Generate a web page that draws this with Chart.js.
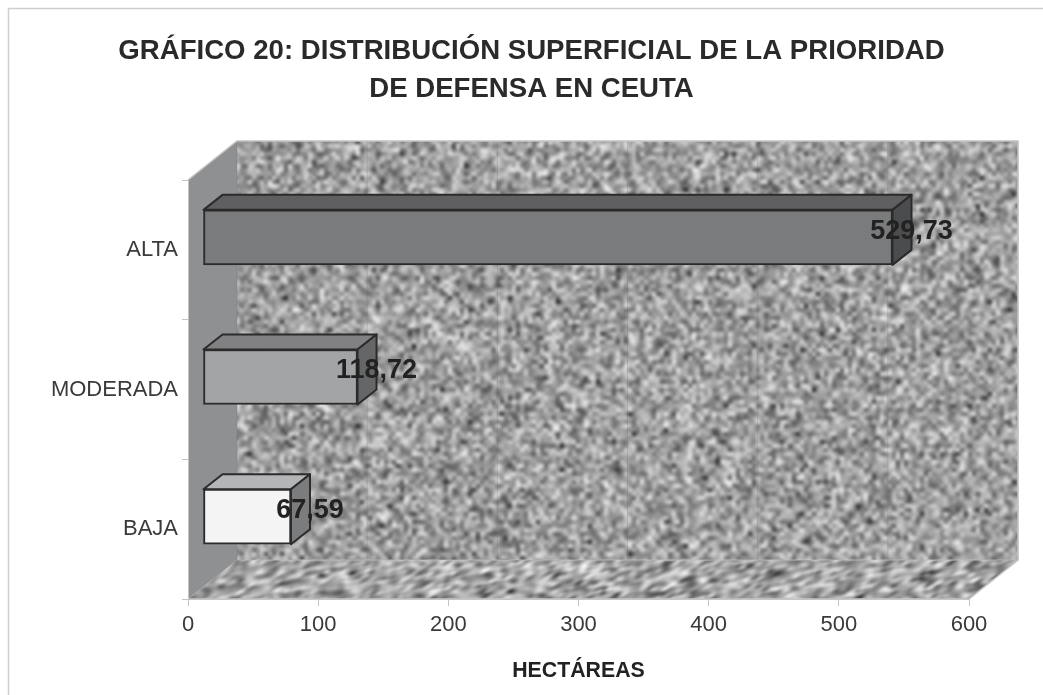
<!DOCTYPE html>
<html>
<head>
<meta charset="utf-8">
<script src="https://cdn.jsdelivr.net/npm/chart.js@4"></script>
<style>
    html, body { margin: 0; padding: 0; background: #fff; }
    #wrap { width: 1043px; height: 695px; }
</style>
</head>
<body>
<div id="wrap"><canvas id="grafico" width="1043" height="695"></canvas></div>
<script>
const categorias = ['ALTA', 'MODERADA', 'BAJA'];
const hectareas = [529.73, 118.72, 67.59];
const etiquetas = ['529,73', '118,72', '67,59'];
const colorFrente = ['#7a7b7d', '#a3a4a6', '#f4f4f4'];
const colorArriba = ['#5f5f61', '#818183', '#b4b5b7'];
const colorLado = ['#4b4c4e', '#656668', '#7b7c7e'];
const tituloLineas = ['GRÁFICO 20: DISTRIBUCIÓN SUPERFICIAL DE LA PRIORIDAD', 'DE DEFENSA EN CEUTA'];

const fuente = 'Liberation Sans, Arial, sans-serif';

// profundidad del fondo y de las barras (falso 3D)
const fondoDx = 49, fondoDy = 39;
const barraDx = 19, barraDy = 15;
const barraOffX = 15, barraOffY = -12.5;

// textura de grano con semilla fija, no lleva datos
const crearGrano = (w, h, celda, semilla, contraste, medio) => {
    let s = semilla;
    const azar = () => {
        s = (s * 1664525 + 1013904223) % 4294967296;
        return s / 4294967296;
    };
    const chico = document.createElement('canvas');
    chico.width = Math.ceil(w / celda);
    chico.height = Math.ceil(h / celda);
    const cc = chico.getContext('2d');
    const img = cc.createImageData(chico.width, chico.height);
    for (let i = 0; i < img.data.length; i += 4) {
        const r = (azar() + azar()) / 2;
        // curva para que haya pocas manchas oscuras sobre un fondo claro
        const v = medio + (r - 0.5) * contraste - (azar() < 0.07 ? 70 : 0);
        img.data[i] = img.data[i + 1] = img.data[i + 2] = v;
        img.data[i + 3] = 255;
    }
    cc.putImageData(img, 0, 0);
    const grande = document.createElement('canvas');
    grande.width = w;
    grande.height = h;
    const gc = grande.getContext('2d');
    gc.imageSmoothingEnabled = true;
    gc.imageSmoothingQuality = 'high';
    gc.filter = 'blur(0.8px)';
    gc.drawImage(chico, 0, 0, w, h);
    return grande;
};

const granoFino = crearGrano(1100, 700, 4, 12345, 205, 166);
const granoGrueso = crearGrano(1100, 700, 14, 98765, 170, 145);

const poligono = (ctx, puntos, relleno, borde, ancho) => {
    ctx.beginPath();
    puntos.forEach((p, i) => (i ? ctx.lineTo(p[0], p[1]) : ctx.moveTo(p[0], p[1])));
    ctx.closePath();
    if (relleno) {
        ctx.fillStyle = relleno;
        ctx.fill();
    }
    if (borde) {
        ctx.strokeStyle = borde;
        ctx.lineWidth = ancho;
        ctx.lineJoin = 'round';
        ctx.stroke();
    }
};

const fondo3d = {
    id: 'fondo3d',
    beforeDraw(chart) {
        const { ctx, chartArea: a, scales } = chart;
        ctx.save();

        // marco de la figura
        ctx.fillStyle = '#fff';
        ctx.fillRect(0, 0, 1043, 695);
        ctx.strokeStyle = '#cfcfcf';
        ctx.lineWidth = 1.5;
        ctx.beginPath();
        ctx.moveTo(8.5, 695);
        ctx.lineTo(8.5, 8.5);
        ctx.lineTo(1043, 8.5);
        ctx.stroke();

        // pared del fondo
        ctx.save();
        ctx.beginPath();
        ctx.rect(a.left + fondoDx, a.top - fondoDy, a.width, a.height);
        ctx.clip();
        ctx.drawImage(granoFino, 0, 0);
        ctx.globalAlpha = 0.15;
        ctx.drawImage(granoGrueso, 0, 0);
        ctx.restore();

        // suelo, el grano se estira en diagonal
        ctx.save();
        ctx.beginPath();
        ctx.moveTo(a.left, a.bottom);
        ctx.lineTo(a.left + fondoDx, a.bottom - fondoDy);
        ctx.lineTo(a.right + fondoDx, a.bottom - fondoDy);
        ctx.lineTo(a.right, a.bottom);
        ctx.closePath();
        ctx.clip();
        ctx.transform(1.2, -0.8, 0.8, 0.4, -340, 880);
        ctx.drawImage(granoFino, 0, 0);
        ctx.restore();

        // pared izquierda
        poligono(ctx, [
            [a.left, a.top],
            [a.left + fondoDx, a.top - fondoDy],
            [a.left + fondoDx, a.bottom - fondoDy],
            [a.left, a.bottom],
        ], '#8f9092');

        // lineas de la rejilla sobre el fondo
        ctx.strokeStyle = 'rgba(110,110,110,0.28)';
        ctx.lineWidth = 1;
        scales.x.ticks.forEach((t) => {
            const x = scales.x.getPixelForValue(t.value) + fondoDx;
            ctx.beginPath();
            ctx.moveTo(x, a.bottom - fondoDy);
            ctx.lineTo(x, a.top - fondoDy);
            ctx.stroke();
        });

        // bordes claros
        ctx.strokeStyle = '#c4c4c4';
        ctx.lineWidth = 1.5;
        ctx.beginPath();
        ctx.moveTo(a.left, a.top);
        ctx.lineTo(a.left + fondoDx, a.top - fondoDy);
        ctx.lineTo(a.right + fondoDx, a.top - fondoDy);
        ctx.lineTo(a.right + fondoDx, a.bottom - fondoDy);
        ctx.lineTo(a.right, a.bottom);
        ctx.lineTo(a.left, a.bottom);
        ctx.stroke();
        ctx.strokeStyle = 'rgba(190,190,190,0.8)';
        ctx.lineWidth = 1;
        ctx.beginPath();
        ctx.moveTo(a.left + fondoDx, a.bottom - fondoDy);
        ctx.lineTo(a.right + fondoDx, a.bottom - fondoDy);
        ctx.stroke();
        ctx.restore();
    },
    beforeDatasetDraw(chart, args) {
        const { ctx } = chart;
        ctx.save();
        ctx.translate(barraOffX, barraOffY);
        args.meta.data.forEach((bar, i) => {
            const p = bar.getProps(['x', 'y', 'base', 'height']);
            const izq = p.base, der = p.x;
            const arr = p.y - p.height / 2, aba = p.y + p.height / 2;
            poligono(ctx, [
                [izq, arr],
                [izq + barraDx, arr - barraDy],
                [der + barraDx, arr - barraDy],
                [der, arr],
            ], colorArriba[i], '#2b2b2b', 2);
            poligono(ctx, [
                [der, arr],
                [der + barraDx, arr - barraDy],
                [der + barraDx, aba - barraDy],
                [der, aba],
            ], colorLado[i], '#2b2b2b', 2);
        });
    },
    afterDatasetDraw(chart) {
        chart.ctx.restore();
    },
    afterDatasetsDraw(chart) {
        const { ctx } = chart;
        const meta = chart.getDatasetMeta(0);
        ctx.save();
        ctx.font = 'bold 27px ' + fuente;
        ctx.fillStyle = '#222';
        ctx.textAlign = 'center';
        ctx.textBaseline = 'middle';
        meta.data.forEach((bar, i) => {
            const p = bar.getProps(['x', 'y']);
            ctx.fillText(etiquetas[i], p.x + barraOffX + barraDx, p.y + barraOffY - 6);
        });
        ctx.restore();
    },
};

new Chart(document.getElementById('grafico'), {
    type: 'bar',
    data: {
        labels: categorias,
        datasets: [{
            label: 'Hectáreas',
            data: hectareas,
            backgroundColor: colorFrente,
            borderColor: '#2b2b2b',
            borderWidth: 2,
            borderSkipped: false,
            barThickness: 55,
            clip: false,
        }],
    },
    plugins: [fondo3d],
    options: {
        indexAxis: 'y',
        responsive: false,
        animation: false,
        layout: { padding: { left: 20, right: 0, top: 32, bottom: 11 } },
        plugins: {
            legend: { display: false },
            tooltip: { enabled: false },
            title: {
                display: true,
                text: tituloLineas,
                color: '#2a2a2a',
                font: { family: fuente, size: 27.6, weight: 'bold', lineHeight: 1.377 },
                padding: { top: 0, bottom: 72 },
            },
        },
        scales: {
            x: {
                min: 0,
                max: 600,
                ticks: { stepSize: 100, color: '#3a3a3a', font: { family: fuente, size: 22 }, padding: 6 },
                grid: { drawOnChartArea: false, tickLength: 7, color: '#c4c4c4' },
                border: { color: '#c4c4c4' },
                title: {
                    display: true,
                    text: 'HECTÁREAS',
                    color: '#222',
                    font: { family: fuente, size: 21.3, weight: 'bold' },
                    padding: { top: 14, bottom: 0 },
                },
            },
            y: {
                afterFit: (scale) => { scale.width = 168; },
                ticks: { color: '#3a3a3a', font: { family: fuente, size: 22 }, padding: 4 },
                grid: { drawOnChartArea: false, tickLength: 6, color: '#c4c4c4' },
                border: { color: '#c4c4c4' },
            },
            // eje vacio, solo reserva el margen derecho
            margen: {
                type: 'linear',
                axis: 'y',
                position: 'right',
                afterFit: (scale) => { scale.width = 74; },
                ticks: { display: false },
                grid: { display: false },
                border: { display: false },
            },
        },
    },
});
</script>
</body>
</html>
